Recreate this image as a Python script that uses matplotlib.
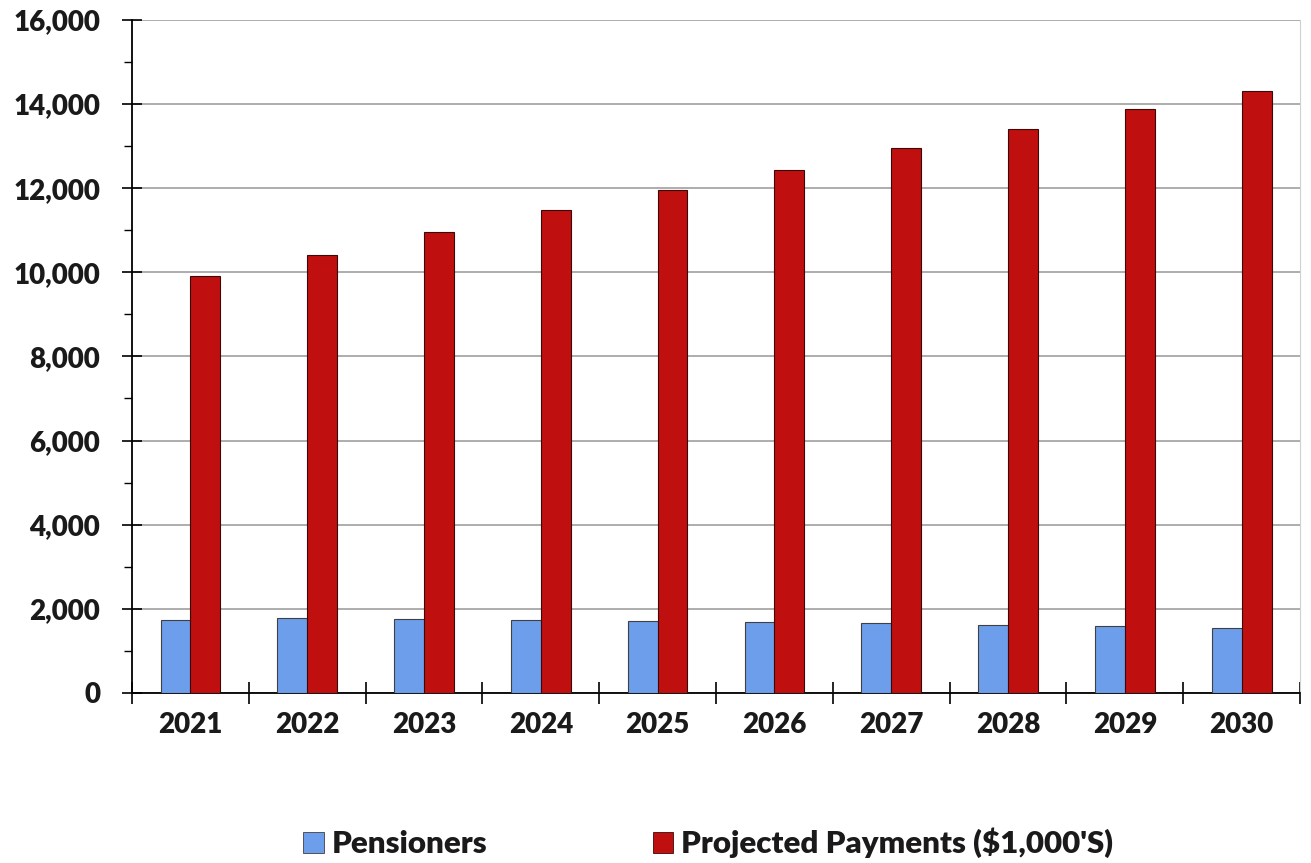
import numpy as np
import matplotlib.pyplot as plt
from matplotlib.patches import Patch
from matplotlib.ticker import MultipleLocator, FuncFormatter

plt.rcParams['font.family'] = ['Lato', 'DejaVu Sans']
plt.rcParams['font.weight'] = 'heavy'

years = ['2021', '2022', '2023', '2024', '2025', '2026', '2027', '2028', '2029', '2030']
pensioners = [1740, 1780, 1760, 1740, 1710, 1690, 1660, 1620, 1590, 1550]
payments = [9900, 10400, 10950, 11480, 11950, 12430, 12950, 13400, 13870, 14300]

blue = '#6d9eeb'
red = '#c00f0f'

fig = plt.figure(figsize=(13.11, 8.63), dpi=100)
ax = fig.add_axes([0.1007, 0.197, 0.891, 0.78])

x = np.arange(len(years))
w = 0.255
ax.bar(x - w / 2, pensioners, w, color=blue, edgecolor='#404040', linewidth=0.8, zorder=3)
ax.bar(x + w / 2, payments, w, color=red, edgecolor='#3a0a0a', linewidth=0.8, zorder=3)

ax.set_xlim(-0.5, len(years) - 0.5)
ax.set_ylim(0, 16000)
ax.yaxis.set_major_locator(MultipleLocator(2000))
ax.yaxis.set_minor_locator(MultipleLocator(1000))
ax.yaxis.set_major_formatter(FuncFormatter(lambda v, p: f'{int(v):,}'))
ax.grid(axis='y', which='major', color='#a0a0a0', linewidth=1.2, zorder=0)

# category labels in the middle, ticks on the boundaries
ax.set_xticks(x)
ax.set_xticklabels(years)
ax.set_xticks(np.arange(len(years) + 1) - 0.5, minor=True)
ax.tick_params(axis='x', which='major', length=0, pad=14, labelsize=20, labelcolor='#1a1a1a')
ax.tick_params(axis='x', which='minor', length=16, direction='inout', width=1.2)
ax.tick_params(axis='y', which='major', length=14, direction='inout', width=1.2, labelsize=20,
               pad=16, labelcolor='#1a1a1a')
ax.tick_params(axis='y', which='minor', length=6, direction='out', width=1)

ax.spines['top'].set_visible(False)
ax.spines['right'].set_color('#d0d0d0')
ax.spines['left'].set_linewidth(1.3)
ax.spines['bottom'].set_linewidth(1.3)

handles = [Patch(facecolor=blue, edgecolor='#404040', linewidth=0.6),
           Patch(facecolor=red, edgecolor='#3a0a0a', linewidth=0.6)]
leg = fig.legend(handles, ['Pensioners', "Projected Payments ($1,000'S)"],
                 loc='center', bbox_to_anchor=(0.54, 0.023), ncol=2, frameon=False,
                 fontsize=22.5, handlelength=0.65, handleheight=0.65, handletextpad=0.25,
                 columnspacing=5.3)
for t in leg.get_texts():
    t.set_color('#1a1a1a')

fig.savefig('out.png', dpi=100)
